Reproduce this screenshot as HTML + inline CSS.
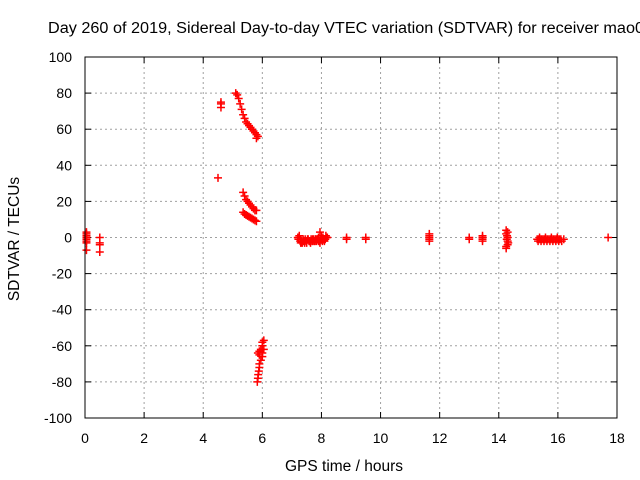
<!DOCTYPE html>
<html><head><meta charset="utf-8"><style>
body{margin:0;background:#fff}
svg{display:block;font-family:"Liberation Sans",sans-serif}
</style></head><body>
<svg id="chart" width="640" height="480" viewBox="0 0 640 480">
<rect width="640" height="480" fill="#fff"/>
<g id="grid"></g>
<g id="ticks"></g>
<g id="points"></g>
<rect x="85" y="57" width="532" height="361" fill="none" stroke="#000" stroke-width="1"/>
<text x="48" y="33" font-size="15.5" textLength="596" lengthAdjust="spacingAndGlyphs">Day 260 of 2019, Sidereal Day-to-day VTEC variation (SDTVAR) for receiver mao0</text>
<text x="344" y="471" text-anchor="middle" font-size="15.5">GPS time / hours</text>
<text transform="translate(19,239) rotate(-90)" text-anchor="middle" font-size="15.5">SDTVAR / TECUs</text>
</svg>
<script>
const xTicks=[0,2,4,6,8,10,12,14,16,18];
const yTicks=[100,80,60,40,20,0,-20,-40,-60,-80,-100];
const hours=[0.05,0.05,0.05,0.05,0.05,0.05,0.05,0.05,0.5,0.5,0.5,0.5,
4.5,4.6,4.6,4.6,
5.1,5.15,5.2,5.25,5.3,5.35,5.4,5.45,5.5,5.55,5.6,5.65,5.7,5.75,5.8,5.85,5.8,
5.35,5.4,5.45,5.5,5.55,5.6,5.65,5.7,5.75,5.8,
5.35,5.4,5.45,5.5,5.55,5.6,5.65,5.7,5.75,5.8,
6.05,6.0,6.0,5.95,5.9,5.85,5.9,6.0,5.95,5.9,5.9,5.88,5.86,5.85,5.83,6.0,6.05,
7.2,7.25,7.3,7.35,7.4,7.45,7.5,7.55,7.6,7.65,7.7,7.75,7.8,7.85,7.9,7.95,8.0,8.05,8.1,8.15,8.2,
7.3,7.4,7.5,7.6,7.7,7.8,7.9,8.0,8.1,7.95,7.95,8.0,
7.22,7.28,7.33,7.38,7.43,7.48,7.53,7.58,7.63,7.68,7.73,7.78,7.83,7.88,7.93,7.98,8.03,8.08,8.13,8.18,
8.85,8.85,9.5,9.5,11.65,11.65,11.65,11.65,11.65,13.0,13.0,13.45,13.45,13.45,13.45,
14.25,14.25,14.3,14.3,14.3,14.25,14.3,14.25,14.28,14.32,14.27,
15.3,15.35,15.4,15.45,15.5,15.55,15.6,15.65,15.7,15.75,15.8,15.85,15.9,15.95,16.0,16.05,16.1,16.2,
15.33,15.43,15.53,15.63,15.73,15.83,15.93,16.03,16.13,15.38,15.58,15.78,15.98,
17.7];
const values=[3,2,1,0,-1,-2,-3,-7,0,-3,-4,-8,
33,75,74,72,
80,79,77,74,71,68,66,64,63,62,61,60,59,58,57,56,55,
25,23,21,20,19,18,17,16,15,15,
14,13,12.5,12,11.5,11,10.5,10,9.5,9,
-57,-58,-60,-62,-63,-64,-65,-66,-68,-70,-72,-74,-76,-78,-80,-64,-62,
0,1,-1,-3,-2,-1,-2,-1,-2,-1,-1,-2,-1,-1,0,-2,-1,0,-1,1,0,
-3,-2,-3,-2,-2,-1,-2,-1,-2,3,-3,1,
-1,-2,-2,-1,-3,-2,-1,-2,-3,-2,-1,-2,-2,-1,-2,-1,-2,-1,-1,0,
0,-1,-1,0,2,0,-1,-2,1,-1,0,-1,0,-2,1,
4,2,0,-2,-4,-6,3,-5,1,-3,-1,
-1,-1,-1,-1,-1,-1,-1,-1,-1,-1,-1,-1,-1,-1,-1,-1,-1,-1,
-2,-2,-2,-2,-2,-2,-2,-2,-2,0,0,0,0,
0];
const X0=85,X1=617,Y0=418,Y1=57;
const sx=h=>X0+(h-0)/(18-0)*(X1-X0);
const sy=v=>Y0-(v+100)/200*(Y0-Y1);
const NS="http://www.w3.org/2000/svg";
function mk(tag,attrs,parent){const e=document.createElementNS(NS,tag);for(const k in attrs)e.setAttribute(k,attrs[k]);parent.appendChild(e);return e;}
const grid=document.getElementById('grid'),ticks=document.getElementById('ticks'),pts=document.getElementById('points');
xTicks.forEach(t=>{const x=sx(t);
 if(t>0&&t<18){const l=mk('line',{x1:x,x2:x,y1:Y1,y2:Y0,stroke:'#a0a0a0','stroke-dasharray':'2,3'},grid);
 
 }
 mk('line',{x1:x,x2:x,y1:Y0,y2:Y0-6,stroke:'#000'},ticks);mk('line',{x1:x,x2:x,y1:Y1,y2:Y1+6,stroke:'#000'},ticks);
 const tx=mk('text',{x:x,y:Y0+25,'text-anchor':'middle','font-size':'14'},ticks);tx.textContent=t;
 
 });
yTicks.forEach(t=>{const y=sy(t);
 if(t>-100&&t<100){const l=mk('line',{x1:X0,x2:X1,y1:y,y2:y,stroke:'#a0a0a0','stroke-dasharray':'2,3'},grid);
 
 }
 mk('line',{x1:X0,x2:X0+6,y1:y,y2:y,stroke:'#000'},ticks);mk('line',{x1:X1,x2:X1-6,y1:y,y2:y,stroke:'#000'},ticks);
 const tx=mk('text',{x:X0-13,y:y+5,'text-anchor':'end','font-size':'14'},ticks);tx.textContent=t;
 
 });
hours.forEach((h,i)=>{const x=sx(h),y=sy(values[i]);
 const p=mk('path',{d:`M${x-4},${y}H${x+4}M${x},${y-4}V${y+4}`,stroke:'#f00','stroke-width':'1.5',fill:'none'},pts);
 
 });
</script>
</body></html>
